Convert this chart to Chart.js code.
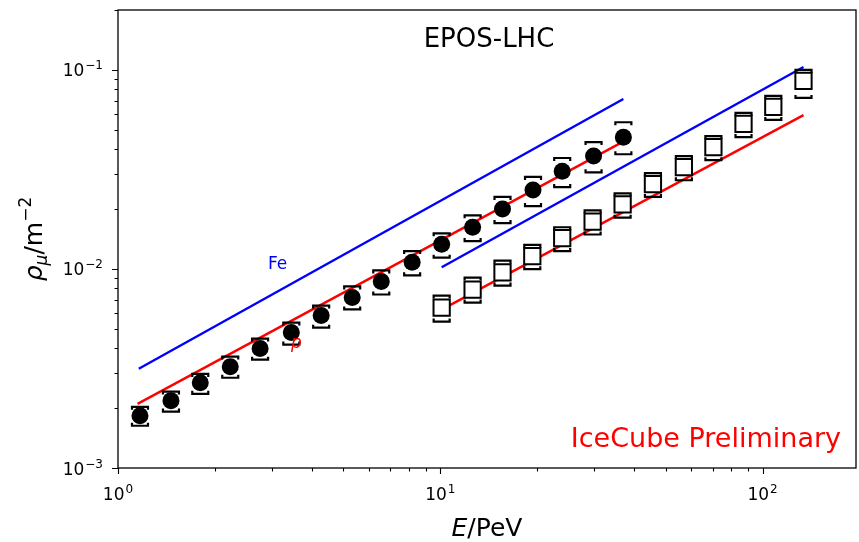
<!DOCTYPE html>
<html>
<head>
<meta charset="utf-8">
<script src="https://cdn.jsdelivr.net/npm/chart.js@4"></script>
<style>
  html, body { margin: 0; padding: 0; background: #fff; }
  #wrap { width: 859px; height: 542px; }
</style>
</head>
<body>
<div id="wrap"><canvas id="muonChart" width="859" height="542"></canvas></div>
<script>
// measured points (energy in PeV, density in m^-2)
const energyCircle = [1.17, 1.46, 1.80, 2.23, 2.76, 3.45, 4.27, 5.33, 6.56, 8.18, 10.1, 12.6, 15.6, 19.4, 23.9, 29.9, 37.0];
const rhoCircle = [1.83e-3, 2.18e-3, 2.68e-3, 3.23e-3, 3.98e-3, 4.79e-3, 5.83e-3, 7.19e-3, 8.65e-3, 1.08e-2, 1.33e-2, 1.62e-2, 2.00e-2, 2.49e-2, 3.10e-2, 3.69e-2, 4.59e-2];
const rhoCircleHi = [2.03e-3, 2.42e-3, 2.97e-3, 3.63e-3, 4.47e-3, 5.38e-3, 6.55e-3, 8.17e-3, 9.83e-3, 1.23e-2, 1.51e-2, 1.86e-2, 2.30e-2, 2.90e-2, 3.61e-2, 4.34e-2, 5.46e-2];
const rhoCircleLo = [1.63e-3, 1.92e-3, 2.36e-3, 2.84e-3, 3.50e-3, 4.17e-3, 5.07e-3, 6.26e-3, 7.44e-3, 9.29e-3, 1.14e-2, 1.38e-2, 1.70e-2, 2.07e-2, 2.58e-2, 3.06e-2, 3.77e-2];

const energySquare = [10.1, 12.6, 15.6, 19.3, 23.9, 29.7, 36.8, 45.7, 57.0, 70.4, 87.3, 108, 134];
const rhoSquare = [6.40e-3, 7.88e-3, 9.60e-3, 1.16e-2, 1.43e-2, 1.73e-2, 2.11e-2, 2.67e-2, 3.25e-2, 4.09e-2, 5.35e-2, 6.52e-2, 8.81e-2];
const rhoSquareHi = [7.35e-3, 9.05e-3, 1.10e-2, 1.32e-2, 1.62e-2, 1.97e-2, 2.40e-2, 3.03e-2, 3.69e-2, 4.65e-2, 6.08e-2, 7.41e-2, 1.00e-1];
const rhoSquareLo = [5.44e-3, 6.78e-3, 8.25e-3, 9.97e-3, 1.23e-2, 1.49e-2, 1.81e-2, 2.30e-2, 2.79e-2, 3.52e-2, 4.60e-2, 5.61e-2, 7.23e-2];

// model lines (end points)
const protonLowX = [1.15, 36.7];
const protonLowY = [2.10e-3, 4.34e-2];
const ironLowX = [1.16, 37.0];
const ironLowY = [3.15e-3, 7.14e-2];
const protonHighX = [10.1, 134];
const protonHighY = [6.25e-3, 5.93e-2];
const ironHighX = [10.1, 134];
const ironHighY = [1.02e-2, 1.035e-1];

const xTicks = [1, 2, 3, 4, 5, 6, 7, 8, 9, 10, 20, 30, 40, 50, 60, 70, 80, 90, 100];
const yTicks = [0.001, 0.002, 0.003, 0.004, 0.005, 0.006, 0.007, 0.008, 0.009, 0.01, 0.02, 0.03, 0.04, 0.05, 0.06, 0.07, 0.08, 0.09, 0.1, 0.2];
// tick label: base "10" and exponent
const xTickLabels = {1: '0', 10: '1', 100: '2'};
const yTickLabels = {0.001: '−3', 0.01: '−2', 0.1: '−1'};

const pts = (xs, ys) => xs.map((x, i) => ({x: x, y: ys[i]}));
const isMajor = v => Math.abs(Math.log10(v) - Math.round(Math.log10(v))) < 1e-9;

function drawCap(ctx, x, y, dir) {
    ctx.beginPath();
    ctx.moveTo(x - 8, y + dir * 3);
    ctx.lineTo(x - 8, y);
    ctx.lineTo(x + 8, y);
    ctx.lineTo(x + 8, y + dir * 3);
    ctx.stroke();
}

// draws "10^exp", align: 'center' or 'right' relative to x
function drawPow(ctx, x, baseline, exp, align) {
    const baseFont = '17px "DejaVu Sans"';
    const expFont = '12px "DejaVu Sans"';
    ctx.font = baseFont;
    const wb = ctx.measureText('10').width;
    ctx.font = expFont;
    const we = ctx.measureText(exp).width;
    const w = wb + we + 1;
    let x0 = align === 'center' ? x - w / 2 : x - w;
    ctx.textAlign = 'left';
    ctx.font = baseFont;
    ctx.fillText('10', x0, baseline);
    ctx.font = expFont;
    ctx.fillText(exp, x0 + wb + 1, baseline - 7);
}

const decoPlugin = {
    id: 'deco',
    afterDatasetsDraw(chart) {
        const ctx = chart.ctx;
        const xs = chart.scales.x, ys = chart.scales.y;
        ctx.save();
        ctx.strokeStyle = '#000';
        ctx.lineWidth = 2.2;
        const sets = [[energyCircle, rhoCircleLo, rhoCircleHi], [energySquare, rhoSquareLo, rhoSquareHi]];
        sets.forEach(([ex, lo, hi]) => {
            ex.forEach((e, i) => {
                const px = xs.getPixelForValue(e);
                drawCap(ctx, px, ys.getPixelForValue(hi[i]), 1);
                drawCap(ctx, px, ys.getPixelForValue(lo[i]), -1);
            });
        });
        ctx.restore();
    },
    afterDraw(chart) {
        const ctx = chart.ctx;
        const a = chart.chartArea;
        const xs = chart.scales.x, ys = chart.scales.y;
        ctx.save();
        // frame
        ctx.strokeStyle = '#000';
        ctx.lineWidth = 1.3;
        ctx.strokeRect(a.left, a.top, a.right - a.left, a.bottom - a.top);
        // tick marks
        ctx.lineWidth = 1.1;
        ctx.beginPath();
        xs.ticks.forEach(t => {
            const px = Math.round(xs.getPixelForValue(t.value)) + 0.5;
            const len = isMajor(t.value) ? 6 : 3.5;
            ctx.moveTo(px, a.bottom);
            ctx.lineTo(px, a.bottom + len);
        });
        ys.ticks.forEach(t => {
            const py = Math.round(ys.getPixelForValue(t.value)) + 0.5;
            const len = isMajor(t.value) ? 6 : 3.5;
            ctx.moveTo(a.left, py);
            ctx.lineTo(a.left - len, py);
        });
        ctx.stroke();

        // tick labels
        ctx.fillStyle = '#000';
        ctx.textBaseline = 'alphabetic';
        xs.ticks.forEach(t => {
            const e = xTickLabels[t.value];
            if (e) drawPow(ctx, xs.getPixelForValue(t.value), a.bottom + 32, e, 'center');
        });
        ys.ticks.forEach(t => {
            const e = yTickLabels[t.value];
            if (e) drawPow(ctx, a.left - 15, ys.getPixelForValue(t.value) + 6.5, e, 'right');
        });

        // annotations
        ctx.font = '26px "DejaVu Sans"';
        ctx.textAlign = 'center';
        ctx.fillText('EPOS-LHC', 489, 47);

        ctx.fillStyle = 'red';
        ctx.font = '27px "DejaVu Sans"';
        ctx.textAlign = 'right';
        ctx.fillText('IceCube Preliminary', 841, 447);

        ctx.textAlign = 'left';
        ctx.fillStyle = 'blue';
        ctx.font = '17px "DejaVu Sans"';
        ctx.fillText('Fe', 268, 269);
        ctx.fillStyle = 'red';
        ctx.font = 'italic 17px "DejaVu Sans"';
        ctx.fillText('p', 291, 348);

        // x axis label: E/PeV
        ctx.fillStyle = '#000';
        const big = '25px "DejaVu Sans"';
        const bigIt = 'italic 25px "DejaVu Sans"';
        ctx.font = bigIt;
        const wE = ctx.measureText('E').width;
        ctx.font = big;
        const wRest = ctx.measureText('/PeV').width;
        let x0 = (a.left + a.right) / 2 - (wE + wRest) / 2;
        ctx.font = bigIt;
        ctx.fillText('E', x0, 536);
        ctx.font = big;
        ctx.fillText('/PeV', x0 + wE, 536);

        // y axis label: rho_mu / m^-2
        ctx.translate(42, (a.top + a.bottom) / 2);
        ctx.rotate(-Math.PI / 2);
        const small = '17px "DejaVu Sans"';
        const smallIt = 'italic 17px "DejaVu Sans"';
        const parts = [
            {t: 'ρ', f: bigIt, dy: 0},
            {t: 'μ', f: smallIt, dy: 5},
            {t: '/m', f: big, dy: 0},
            {t: '−2', f: small, dy: -11}
        ];
        let total = 0;
        parts.forEach(p => { ctx.font = p.f; p.w = ctx.measureText(p.t).width; total += p.w; });
        let cx = -total / 2;
        parts.forEach(p => {
            ctx.font = p.f;
            ctx.fillText(p.t, cx, p.dy);
            cx += p.w;
        });
        ctx.restore();
    }
};

const data = {
    datasets: [
        {
            label: 'data (circles)',
            data: pts(energyCircle, rhoCircle),
            pointStyle: 'circle',
            pointRadius: 8.5,
            backgroundColor: '#000',
            borderColor: '#000',
            borderWidth: 0,
            showLine: false,
            order: 0
        },
        {
            label: 'data (squares)',
            data: pts(energySquare, rhoSquare),
            pointStyle: 'rect',
            pointRadius: 11.5,
            backgroundColor: '#fff',
            borderColor: '#000',
            borderWidth: 2,
            showLine: false,
            order: 0
        },
        {
            label: 'p low',
            data: pts(protonLowX, protonLowY),
            showLine: true,
            pointRadius: 0,
            borderColor: 'red',
            borderWidth: 2.4,
            order: 1
        },
        {
            label: 'Fe low',
            data: pts(ironLowX, ironLowY),
            showLine: true,
            pointRadius: 0,
            borderColor: 'blue',
            borderWidth: 2.4,
            order: 1
        },
        {
            label: 'p high',
            data: pts(protonHighX, protonHighY),
            showLine: true,
            pointRadius: 0,
            borderColor: 'red',
            borderWidth: 2.4,
            order: 1
        },
        {
            label: 'Fe high',
            data: pts(ironHighX, ironHighY),
            showLine: true,
            pointRadius: 0,
            borderColor: 'blue',
            borderWidth: 2.4,
            order: 1
        }
    ]
};

const config = {
    type: 'scatter',
    data: data,
    options: {
        responsive: false,
        animation: false,
        events: [],
        layout: {autoPadding: false, padding: {left: 0, top: 10, right: 3, bottom: 0}},
        plugins: {legend: {display: false}, tooltip: {enabled: false}},
        scales: {
            x: {
                type: 'logarithmic',
                min: 1,
                max: 195,
                grid: {display: false},
                border: {display: false},
                afterBuildTicks: s => { s.ticks = xTicks.map(v => ({value: v})); },
                afterFit: s => {
                    s.height = 74;
                    s.paddingLeft = 0; s.paddingRight = 0; s.paddingTop = 0; s.paddingBottom = 0;
                },
                ticks: {display: false, autoSkip: false, maxRotation: 0}
            },
            y: {
                type: 'logarithmic',
                min: 0.001,
                max: 0.2,
                grid: {display: false},
                border: {display: false},
                afterBuildTicks: s => { s.ticks = yTicks.map(v => ({value: v})); },
                afterFit: s => {
                    s.width = 118;
                    s.paddingLeft = 0; s.paddingRight = 0; s.paddingTop = 0; s.paddingBottom = 0;
                },
                ticks: {display: false, autoSkip: false}
            }
        }
    },
    plugins: [decoPlugin]
};

const muonChart = new Chart(document.getElementById('muonChart'), config);
</script>
</body>
</html>
